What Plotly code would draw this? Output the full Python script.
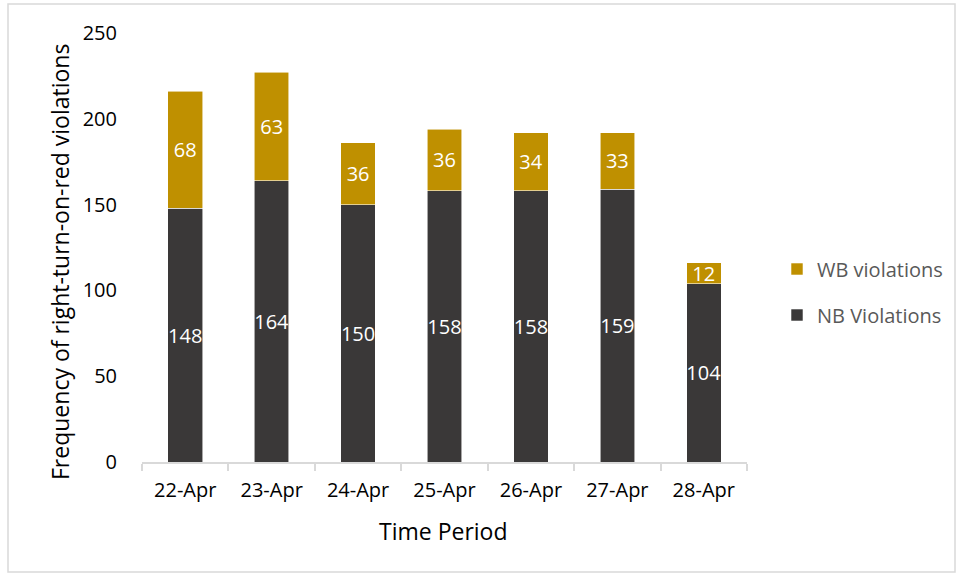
import plotly.graph_objects as go

dates = ["22-Apr", "23-Apr", "24-Apr", "25-Apr", "26-Apr", "27-Apr", "28-Apr"]
nb_violations = [148, 164, 150, 158, 158, 159, 104]
wb_violations = [68, 63, 36, 36, 34, 33, 12]

FONT = "Open Sans"
L, R, T, B = 142, 747, 33, 462
W, H = 961, 577
PW, PH = R - L, B - T


def px(x):
    return (x - L) / PW


def py(y):
    return (B - y) / PH


fig = go.Figure()
fig.add_trace(go.Bar(
    x=dates, y=nb_violations, name="NB Violations", legendgroup="nb", legendrank=2,
    marker=dict(color="#3A3838", line=dict(color="rgba(255,255,255,0.7)", width=0.8)),
    text=nb_violations, textposition="inside", insidetextanchor="middle",
    textangle=0, constraintext="none",
    textfont=dict(color="white", size=20, family=FONT),
))
fig.add_trace(go.Bar(
    x=dates, y=wb_violations, name="WB violations", legendgroup="wb", legendrank=1,
    marker=dict(color="#BF9000", line=dict(color="rgba(255,255,255,0.7)", width=0.8)),
    text=wb_violations, textposition="inside", insidetextanchor="middle",
    textangle=0, constraintext="none",
    textfont=dict(color="white", size=20, family=FONT),
))

fig.update_layout(
    width=W, height=H,
    barmode="stack", bargap=0.6,
    plot_bgcolor="white", paper_bgcolor="white",
    margin=dict(l=L, r=W - R, t=T, b=H - B, autoexpand=False),
    font=dict(family=FONT, size=20, color="#000000"),
    showlegend=True,
    legend=dict(
        x=px(777), y=py(292), xanchor="left", yanchor="middle",
        traceorder="grouped", tracegroupgap=17, itemwidth=30,
        font=dict(size=20, color="#595959", family=FONT),
        bgcolor="rgba(0,0,0,0)",
    ),
    xaxis=dict(
        showline=True, linecolor="#D9D9D9", linewidth=1.5,
        ticks="outside", tickson="boundaries", ticklen=7, tickcolor="#D9D9D9",
        tickwidth=1.5, ticklabelstandoff=9,
        tickfont=dict(size=20, color="#000000"),
    ),
    yaxis=dict(
        range=[0, 250], dtick=50, showgrid=False, zeroline=False, showline=False,
        tickfont=dict(size=20, color="#000000"),
        ticks="", ticklabelstandoff=24,
    ),
    annotations=[
        dict(text="Time Period", xref="paper", yref="paper", x=px(443), y=py(531),
             xanchor="center", yanchor="middle", showarrow=False,
             font=dict(size=23, color="#000000")),
        dict(text="Frequency of right-turn-on-red violations", xref="paper", yref="paper",
             x=px(60), y=py(262), xanchor="center", yanchor="middle", textangle=-90,
             showarrow=False, font=dict(size=23, color="#000000")),
    ],
    shapes=[dict(
        type="rect", xref="paper", yref="paper",
        x0=px(8), x1=px(955), y0=py(572), y1=py(4),
        line=dict(color="#D9D9D9", width=1.5), fillcolor="rgba(0,0,0,0)", layer="below",
    )],
)

fig.write_html("out.html", config={"displayModeBar": False},
               post_script="document.body.style.margin='0';")
